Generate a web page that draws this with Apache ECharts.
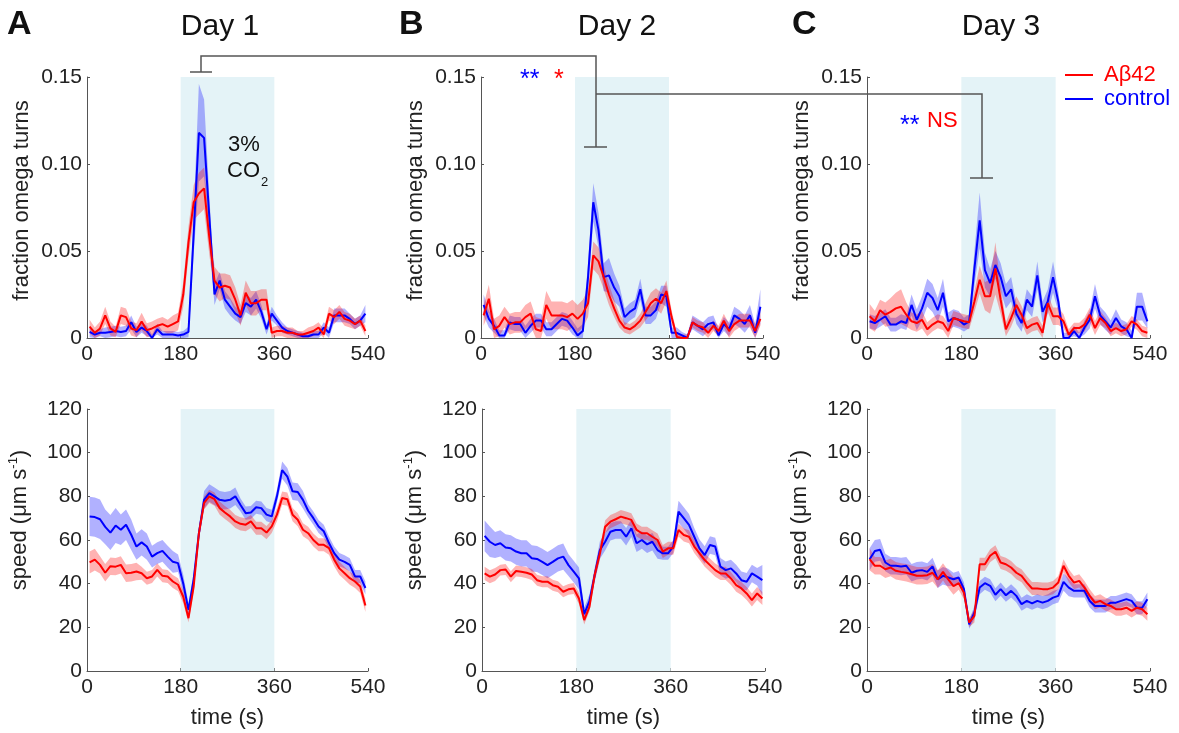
<!DOCTYPE html>
<html><head><meta charset="utf-8">
<script src="https://cdn.jsdelivr.net/npm/echarts@6/dist/echarts.min.js"></script>
<style>html,body{margin:0;padding:0;background:#fff}#c{width:1179px;height:733px}</style>
</head><body><div id="c"></div>
<script>
// time bins (s)
const TIME = [5,15,25,35,45,55,65,75,85,95,105,115,125,135,145,155,165,175,185,195,
  205,215,225,235,245,255,265,275,285,295,305,315,325,335,345,355,365,375,385,395,
  405,415,425,435,445,455,465,475,485,495,505,515,525,535];
const X_TICKS = [0,180,360,540];
const OMEGA_TICKS = ['0','0.05','0.10','0.15'];
const SPEED_TICKS = ['0','20','40','60','80','100','120'];
const DAYS = ['Day 1','Day 2','Day 3'];
const PANEL_LETTERS = ['A','B','C'];
const CO2_START = 180, CO2_END = 360;

// fraction omega turns
const d1OmegaCtrl = [0.0035,0.002,0.003,0.003,0.0035,0.004,0.0035,0.004,0.009,0.0035,0.006,0.004,0.0,0.005,0.002,0.002,0.002,0.0015,0.002,0.0035,
  0.06,0.118,0.115,0.07,0.025,0.033,0.022,0.018,0.014,0.012,0.02,0.018,0.022,0.015,0.005,0.014,0.01,0.006,0.004,0.003,0.002,0.001,0.001,0.002,0.002,0.006,0.003,0.013,0.013,0.013,0.011,0.008,0.01,0.014];
const d1OmegaAb = [0.0065,0.003,0.0055,0.013,0.0055,0.0035,0.013,0.012,0.0055,0.0045,0.0095,0.0045,0.0055,0.007,0.008,0.0065,0.008,0.0095,0.025,0.055,
  0.078,0.083,0.086,0.058,0.033,0.029,0.03,0.029,0.022,0.013,0.026,0.02,0.02,0.022,0.022,0.003,0.004,0.004,0.003,0.003,0.002,0.002,0.003,0.004,0.006,0.002,0.014,0.012,0.015,0.011,0.01,0.008,0.01,0.004];
const d1OmegaCtrlErr = [0.003,0.002,0.002,0.003,0.003,0.003,0.003,0.003,0.004,0.003,0.003,0.003,0.002,0.003,0.002,0.002,0.002,0.002,0.002,0.003,
  0.012,0.028,0.022,0.012,0.006,0.005,0.005,0.005,0.004,0.004,0.005,0.005,0.005,0.004,0.003,0.004,0.003,0.003,0.002,0.002,0.002,0.002,0.002,0.002,0.002,0.003,0.003,0.004,0.004,0.004,0.003,0.003,0.003,0.005];
const d1OmegaAbErr = [0.004,0.003,0.004,0.005,0.004,0.003,0.005,0.005,0.004,0.004,0.005,0.004,0.004,0.004,0.004,0.004,0.005,0.005,0.007,0.009,
  0.01,0.012,0.012,0.01,0.008,0.008,0.007,0.007,0.007,0.006,0.007,0.007,0.007,0.006,0.006,0.003,0.003,0.003,0.003,0.003,0.002,0.002,0.003,0.003,0.003,0.003,0.004,0.004,0.004,0.004,0.004,0.003,0.003,0.003];

const d2OmegaCtrl = [0.019,0.011,0.007,0.0015,0.0015,0.009,0.008,0.008,0.003,0.007,0.01,0.01,0.005,0.005,0.008,0.011,0.01,0.006,0.0015,0.004,
  0.035,0.078,0.062,0.035,0.036,0.029,0.024,0.012,0.015,0.017,0.028,0.013,0.013,0.016,0.025,0.024,0.003,0.003,0.0015,0,0.009,0.007,0.005,0.008,0.009,0.0015,0.008,0.005,0.013,0.011,0.008,0.013,0.003,0.018];
const d2OmegaAb = [0.013,0.0226,0.005,0.007,0.012,0.008,0.009,0.009,0.012,0.014,0.005,0.004,0.019,0.013,0.013,0.013,0.012,0.014,0.011,0.014,
  0.02,0.0475,0.044,0.035,0.025,0.017,0.01,0.006,0.005,0.007,0.01,0.015,0.02,0.0226,0.02,0.027,0.012,0.0006,0,0,0.009,0.007,0.006,0.003,0.007,0.004,0.01,0.004,0.008,0.01,0.01,0.01,0.004,0.011];
const d2OmegaCtrlErr = [0.006,0.005,0.004,0.003,0.003,0.004,0.004,0.004,0.004,0.004,0.004,0.004,0.004,0.004,0.004,0.004,0.004,0.004,0.004,0.004,
  0.008,0.011,0.01,0.008,0.01,0.008,0.006,0.005,0.005,0.005,0.006,0.005,0.005,0.005,0.005,0.006,0.003,0.003,0.002,0.002,0.004,0.004,0.004,0.004,0.004,0.004,0.004,0.004,0.005,0.005,0.005,0.006,0.005,0.01];
const d2OmegaAbErr = [0.006,0.008,0.006,0.006,0.006,0.006,0.006,0.006,0.007,0.007,0.007,0.007,0.008,0.008,0.008,0.008,0.008,0.008,0.008,0.008,
  0.008,0.008,0.008,0.007,0.006,0.005,0.004,0.003,0.003,0.003,0.004,0.005,0.006,0.006,0.006,0.006,0.004,0.002,0.002,0.002,0.003,0.003,0.003,0.003,0.003,0.003,0.004,0.004,0.004,0.004,0.004,0.004,0.004,0.004];

const d3OmegaCtrl = [0.0096,0.0086,0.0105,0.0125,0.0077,0.0077,0.0096,0.0086,0.019,0.0105,0.017,0.026,0.023,0.016,0.026,0.0096,0.0115,0.0105,0.0077,0.0096,
  0.04,0.0676,0.039,0.0316,0.042,0.035,0.024,0.028,0.014,0.0086,0.022,0.018,0.036,0.015,0.021,0.035,0.021,0,0,0.004,0,0.006,0.0105,0.024,0.013,0.0096,0.006,0.0115,0.0067,0.005,0,0.018,0.018,0.0096];
const d3OmegaAb = [0.0125,0.0096,0.016,0.0134,0.015,0.017,0.018,0.0134,0.0096,0.0086,0.0105,0.005,0.0077,0.0096,0.0086,0.004,0.0115,0.0105,0.0096,0.009,
  0.021,0.0335,0.024,0.024,0.04,0.022,0.005,0.0115,0.019,0.0134,0.0057,0.0077,0.0086,0.003,0.02,0.0125,0.0125,0.0096,0.002,0.0057,0.0057,0.0077,0.0134,0.0057,0.0115,0.0086,0.004,0.0057,0.004,0.005,0.0096,0.0077,0.004,0.003];
const d3OmegaCtrlErr = [0.004,0.004,0.004,0.004,0.004,0.004,0.004,0.004,0.006,0.006,0.007,0.008,0.008,0.007,0.008,0.005,0.005,0.005,0.004,0.004,
  0.01,0.016,0.01,0.008,0.008,0.008,0.007,0.007,0.006,0.005,0.006,0.006,0.008,0.006,0.007,0.009,0.006,0.003,0.003,0.003,0.003,0.004,0.005,0.007,0.005,0.005,0.004,0.005,0.004,0.004,0.004,0.008,0.008,0.004];
const d3OmegaAbErr = [0.007,0.006,0.006,0.007,0.008,0.009,0.01,0.007,0.005,0.005,0.005,0.004,0.004,0.004,0.004,0.004,0.004,0.004,0.004,0.004,
  0.006,0.008,0.008,0.01,0.015,0.008,0.004,0.005,0.005,0.005,0.004,0.004,0.004,0.004,0.005,0.005,0.005,0.004,0.003,0.003,0.003,0.004,0.004,0.004,0.004,0.003,0.003,0.003,0.003,0.003,0.003,0.003,0.003,0.003];

// speed (um/s)
const d1SpeedCtrl = [70.8,70.5,69.5,66,63.4,66.6,64.7,67,62.4,57,58.9,57,52.4,54,55,52.4,50,49.4,40,28,
  42,63,78.4,81.5,80,78.4,78,78.4,80,76,72.3,72.6,75,74.6,71.6,70.8,80,92,89,82.3,82,78.4,73.4,70,66.2,64,58.6,54,51,50,48.6,43.3,43.3,38];
const d1SpeedAb = [49.7,51,48.6,45,48,47.8,48.6,44.8,45,45.6,44.8,42.5,43.3,46.3,43.6,43.3,41,39.5,34,24.2,
  38.7,63,77,80,78.7,74.6,72.6,70.8,68.5,67.4,67,68.5,65.4,65.4,63.4,66.2,71.6,79.2,78.7,71.6,69.3,64.7,63.1,60,57.8,57.8,56.3,51,47,44.8,42.5,41,38.7,30];
const d1SpeedCtrlErr = [9,9,9,8,8,8,7,7,7,6,6,6,5,5,5,5,5,4,4,3,
  3,3,4,4,4,4,4,4,4,3,3,3,3,3,3,3,3,4,4,4,4,4,3,3,3,3,3,3,3,3,3,3,3,3];
const d1SpeedAbErr = [5,5,4,4,4,4,4,4,4,4,3,3,3,3,3,3,3,3,3,2,
  2,3,3,3,3,3,3,3,3,3,3,3,3,3,3,3,3,3,3,3,3,3,3,3,3,3,3,3,3,3,3,3,3,3];

const d2SpeedCtrl = [61.9,59.2,57.7,58.5,56.6,56.2,54.7,53.9,53.9,51.6,51.3,50,48.5,50,51.6,52.4,48.5,45.5,42.4,26,
  32,44,55.4,59.2,63.8,64.6,64.6,61.5,65.4,58.5,60,58,59.2,55.4,53.9,53.9,57,73,70,66.9,61.5,56.2,53.1,57.7,57,47.8,46.2,47,44.7,41.6,40.9,44.7,43.2,41.6];
const d2SpeedAb = [44.7,43.2,44.2,46.2,46.5,43.2,45.8,45.5,45,44.2,41.6,40.9,40.9,39.3,38.6,36.3,37.4,37.8,33.2,23.3,
  29.4,44,53.9,66.1,68.4,69.5,70.7,70,69.2,64.6,63.1,63.1,61.5,60,54.7,56.2,56.2,64.6,62.3,61.5,57,53.9,50.8,48.5,46.2,44.7,44.7,42.4,39.3,37.8,35.5,32.5,35.5,33.2];
const d2SpeedCtrlErr = [7,7,6,6,6,6,6,6,6,6,6,6,6,6,6,6,5,5,5,3,
  3,3,4,4,4,4,4,4,4,4,4,4,4,4,3,3,3,5,5,5,4,4,4,4,4,4,4,4,4,4,4,4,4,7];
const d2SpeedAbErr = [3,3,3,2.5,2.5,2.5,2.5,2.5,2.5,2.5,2.5,2.5,2.5,2.5,2.5,2.5,2.5,2.5,2.5,2,
  2,3,3,3,3,3,3,3,3,3,3,3,3,3,3,3,3,3,3,3,3,3,3,3,3,3,3,3,3,3,3,3,3,3];

const d3SpeedCtrl = [51.2,55,55.5,49.7,48.2,48.2,47.9,48.2,45,45.9,46.2,45.4,47.9,42,43.6,42.8,42,42.8,37.5,21.4,
  26.8,38.2,40.2,39,34.9,37.5,34.7,36.7,34.4,30.6,32.1,31,32.1,31.3,32.1,33.6,34.4,40.8,38.2,36.7,36.7,36.7,32.1,29.8,29.8,29.8,31.3,31.3,32.1,32.9,32.1,29,29,32.9];
const d3SpeedAb = [51.2,48.2,48.2,46.6,47.4,45.9,45.4,45,44.3,43.6,43.6,43.9,45,42,45.4,42,38.9,40.2,35.9,22.2,
  25.2,48.9,48.9,52.8,54.6,49.7,48.9,47.4,45,43.6,40.5,37.8,37.8,37.5,37.5,38.2,40.5,48.2,43.6,40.5,41.3,38.2,34.4,31.3,32.1,30.6,29.8,28.3,28.3,29,27.5,29,28.3,26];
const d3SpeedCtrlErr = [5,5,5,4,4,4,4,4,4,4,4,4,4,4,4,4,3,3,3,2,
  3,3,3,3,3,3,3,3,3,3,3,3,3,3,3,3,3,4,4,3,3,3,3,3,3,3,3,3,3,3,3,3,3,3];
const d3SpeedAbErr = [5,4,4,4,4,4,4,4,4,4,4,4,4,4,4,4,4,3,3,2,
  3,3,3,3,3,3,3,3,3,3,3,3,3,3,3,3,3,3,3,3,3,3,3,3,3,3,3,3,3,3,3,3,3,3];

const FONT = 'Liberation Sans, Arial, Helvetica, sans-serif';
const TXT = '#222';
const AXC = '#555';
const BLUE = '#0000ff', RED = '#ff0000';
const BLUE_BAND = 'rgba(40,40,255,0.36)', RED_BAND = 'rgba(255,0,0,0.30)';
const SHADE = '#e4f3f7';

const panels = [
  {grid:{left:87, top:77, width:281, height:261}, top:true, c:d1OmegaCtrl, a:d1OmegaAb, ce:d1OmegaCtrlErr, ae:d1OmegaAbErr},
  {grid:{left:481, top:77, width:282, height:261}, top:true, c:d2OmegaCtrl, a:d2OmegaAb, ce:d2OmegaCtrlErr, ae:d2OmegaAbErr},
  {grid:{left:867, top:77, width:283, height:261}, top:true, c:d3OmegaCtrl, a:d3OmegaAb, ce:d3OmegaCtrlErr, ae:d3OmegaAbErr},
  {grid:{left:87, top:409, width:281, height:262}, top:false, c:d1SpeedCtrl, a:d1SpeedAb, ce:d1SpeedCtrlErr, ae:d1SpeedAbErr},
  {grid:{left:482, top:409, width:283, height:262}, top:false, c:d2SpeedCtrl, a:d2SpeedAb, ce:d2SpeedCtrlErr, ae:d2SpeedAbErr},
  {grid:{left:867, top:409, width:283, height:262}, top:false, c:d3SpeedCtrl, a:d3SpeedAb, ce:d3SpeedCtrlErr, ae:d3SpeedAbErr}
];

function band(i, mean, err, color) {
  const lo = mean.map((v, k) => Math.max(0, v - err[k]));
  const hi = mean.map((v, k) => v + err[k]);
  return {
    type: 'custom', xAxisIndex: i, yAxisIndex: i, z: 2, silent: true,
    data: TIME.map((t, k) => [t, lo[k], hi[k]]),
    encode: {x: 0, y: [1, 2]},
    renderItem: function (params, api) {
      if (params.dataIndex !== 0) return null;
      const pts = [];
      for (let k = 0; k < TIME.length; k++) pts.push(api.coord([TIME[k], lo[k]]));
      for (let k = TIME.length - 1; k >= 0; k--) pts.push(api.coord([TIME[k], hi[k]]));
      return {type: 'polygon', shape: {points: pts}, style: {fill: color}};
    }
  };
}

const grid = [], xAxis = [], yAxis = [], series = [];
panels.forEach((p, i) => {
  grid.push(Object.assign({containLabel: false}, p.grid));
  xAxis.push({
    type: 'value', gridIndex: i, min: 0, max: 540, interval: 180,
    axisLine: {onZero: false, lineStyle: {color: AXC, width: 1}},
    axisTick: {inside: true, length: 3, lineStyle: {color: AXC}},
    splitLine: {show: false},
    axisLabel: {color: TXT, fontSize: 21, fontFamily: FONT, margin: 6},
    name: p.top ? '' : 'time (s)', nameLocation: 'middle', nameGap: 36,
    nameTextStyle: {color: TXT, fontSize: 22, fontFamily: FONT}
  });
  yAxis.push({
    type: 'value', gridIndex: i,
    min: 0, max: p.top ? 0.15 : 120, interval: p.top ? 0.05 : 20,
    axisLine: {show: true, lineStyle: {color: AXC, width: 1}},
    axisTick: {show: true, inside: true, length: 3, lineStyle: {color: AXC}},
    splitLine: {show: false},
    axisLabel: {
      color: TXT, fontSize: 21, fontFamily: FONT, margin: 5,
      formatter: p.top ? (v => OMEGA_TICKS[Math.round(v / 0.05)]) : (v => SPEED_TICKS[Math.round(v / 20)])
    },
    name: p.top ? 'fraction omega turns' : '{a|speed (μm s}{b|-1}{a|)}',
    nameLocation: 'middle', nameGap: 54,
    nameTextStyle: {
      color: TXT, fontSize: 22, fontFamily: FONT,
      padding: p.top ? [0, 0, 0, 14] : [0, 0, 0, 40],
      rich: {
        a: {color: TXT, fontSize: 22, fontFamily: FONT, lineHeight: 26},
        b: {color: TXT, fontSize: 13, fontFamily: FONT, lineHeight: 14, verticalAlign: 'top'}
      }
    }
  });
  // CO2 shading
  series.push({
    type: 'line', xAxisIndex: i, yAxisIndex: i, z: 1, silent: true, name: 'CO2 ' + i,
    data: [], symbol: 'none',
    markArea: {silent: true, itemStyle: {color: SHADE}, data: [[{xAxis: CO2_START, yAxis: 0}, {xAxis: CO2_END, yAxis: p.top ? 0.15 : 120}]]}
  });
  series.push(band(i, p.c, p.ce, BLUE_BAND));
  series.push(band(i, p.a, p.ae, RED_BAND));
  series.push({
    type: 'line', name: 'control', xAxisIndex: i, yAxisIndex: i, z: 3,
    data: TIME.map((t, k) => [t, p.c[k]]), symbol: 'none', showSymbol: false,
    lineStyle: {color: BLUE, width: 2}, itemStyle: {color: BLUE}
  });
  series.push({
    type: 'line', name: 'Aβ42', xAxisIndex: i, yAxisIndex: i, z: 4,
    data: TIME.map((t, k) => [t, p.a[k]]), symbol: 'none', showSymbol: false,
    lineStyle: {color: RED, width: 2}, itemStyle: {color: RED}
  });
});

function txt(text, x, y, size, opts) {
  opts = opts || {};
  return {
    type: 'text', x: x, y: y, silent: true, z: 10,
    style: {
      text: text, fill: opts.color || '#111',
      font: (opts.bold ? 'bold ' : '') + size + 'px ' + FONT,
      textAlign: opts.align || 'left', textVerticalAlign: 'middle',
      align: opts.align || 'left', verticalAlign: 'middle'
    }
  };
}
function pl(points) {
  return {type: 'polyline', silent: true, z: 10, shape: {points: points}, style: {stroke: '#555', lineWidth: 1.5, fill: null}};
}

const graphic = [
  txt(PANEL_LETTERS[0], 7, 25, 34, {bold: true}),
  txt(PANEL_LETTERS[1], 399, 25, 34, {bold: true}),
  txt(PANEL_LETTERS[2], 792, 25, 34, {bold: true}),
  txt(DAYS[0], 220, 27, 30, {align: 'center'}),
  txt(DAYS[1], 617, 27, 30, {align: 'center'}),
  txt(DAYS[2], 1001, 27, 30, {align: 'center'}),
  txt('3%', 244, 145, 22, {align: 'center'}),
  txt('CO', 260, 171, 22, {align: 'right'}),
  txt('2', 261, 182, 13, {}),
  txt('**', 520, 80, 25, {color: BLUE}),
  txt('*', 554, 80, 25, {color: RED}),
  txt('**', 900, 126, 25, {color: BLUE}),
  txt('NS', 927, 121, 22, {color: RED}),
  pl([[190, 72], [212, 72]]),
  pl([[201, 72], [201, 56], [596, 56], [596, 147]]),
  pl([[584, 147], [607, 147]]),
  pl([[596, 94], [982, 94], [982, 178]]),
  pl([[970, 178], [993, 178]])
];

const chart = echarts.init(document.getElementById('c'), null, {renderer: 'canvas'});
chart.setOption({
  animation: false,
  backgroundColor: '#fff',
  textStyle: {fontFamily: FONT},
  legend: {
    orient: 'vertical', left: 1065, top: 64, padding: 0, itemWidth: 28, itemHeight: 2, itemGap: 2, icon: 'rect',
    textStyle: {fontSize: 22, fontFamily: FONT, padding: [0, 0, 0, 6]},
    data: [{name: 'Aβ42', icon: 'rect', textStyle: {color: RED}}, {name: 'control', icon: 'rect', textStyle: {color: BLUE}}]
  },
  grid: grid, xAxis: xAxis, yAxis: yAxis, series: series, graphic: graphic
});
</script>
</body></html>
